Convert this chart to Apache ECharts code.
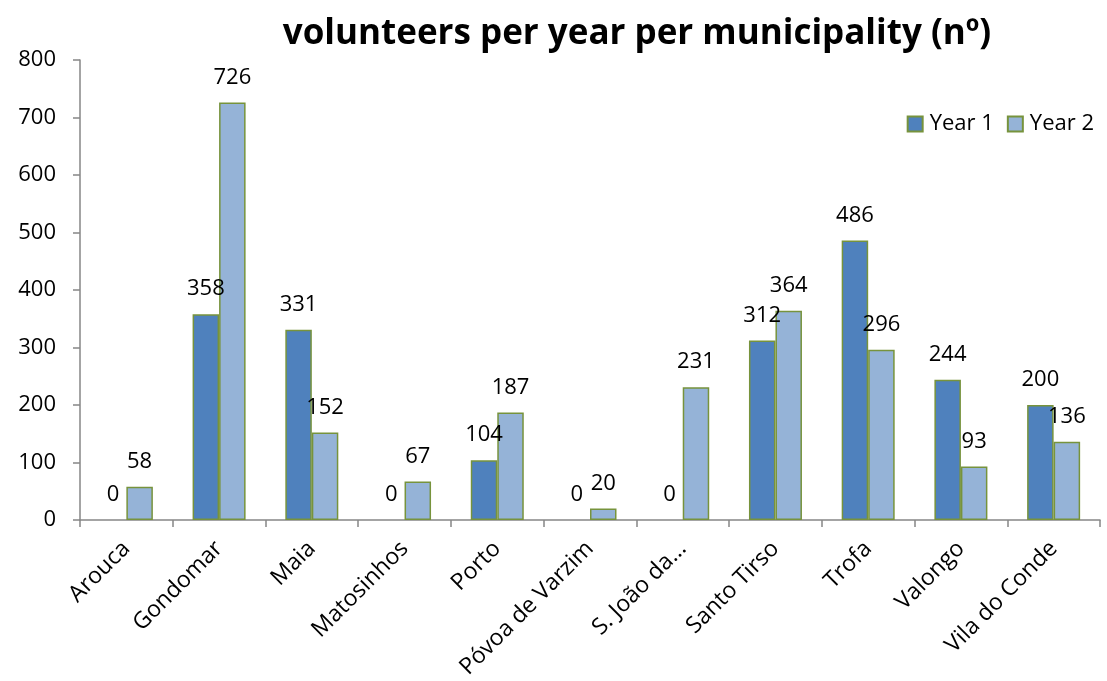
<!DOCTYPE html>
<html>
<head>
<meta charset="utf-8">
<script src="https://cdn.jsdelivr.net/npm/echarts@6/dist/echarts.min.js"></script>
<style>
  html, body { margin: 0; padding: 0; background: #fff; }
  #chart { width: 1107px; height: 681px; }
</style>
</head>
<body>
<div id="chart"></div>
<script>
// municipalities and volunteers per year
const municipalities = ['Arouca', 'Gondomar', 'Maia', 'Matosinhos', 'Porto', 'Póvoa de Varzim',
  'S. João da...', 'Santo Tirso', 'Trofa', 'Valongo', 'Vila do Conde']
const year1 = [0, 358, 331, 0, 104, 0, 0, 312, 486, 244, 200]
const year2 = [58, 726, 152, 67, 187, 20, 231, 364, 296, 93, 136]
const yTicks = { min: 0, max: 800, interval: 100 }

const font = '"Open Sans", "Noto Sans", sans-serif'
const axisGrey = '#868686'
const borderGreen = '#77933C'

const chart = echarts.init(document.getElementById('chart'))

function barSeries(name, data, color) {
  return {
    name: name,
    type: 'bar',
    // zero bars get no outline, like the original
    data: data.map(v => (v === 0 ? { value: v, itemStyle: { borderWidth: 0 } } : v)),
    barWidth: 26.5,
    barGap: '0%',
    itemStyle: { color: color, borderColor: borderGreen, borderWidth: 1.5 },
    label: {
      show: true,
      position: 'top',
      distance: 14,
      color: '#000',
      fontFamily: font,
      fontSize: 22
    }
  }
}

chart.setOption({
  animation: false,
  backgroundColor: '#fff',
  title: {
    text: 'volunteers per year per municipality (nº)',
    left: 632,
    textAlign: 'center',
    top: 12,
    textStyle: { fontFamily: font, fontSize: 35, fontWeight: 'bold', color: '#000' }
  },
  legend: {
    right: 8,
    top: 108,
    itemWidth: 15,
    itemHeight: 15,
    itemGap: 13,
    icon: 'rect',
    textStyle: { fontFamily: font, fontSize: 22, color: '#000', padding: [0, 0, 0, 2] },
    data: ['Year 1', 'Year 2']
  },
  grid: { left: 80, right: 7, top: 60, bottom: 161, containLabel: false, outerBoundsMode: 'none' },
  xAxis: {
    type: 'category',
    data: municipalities,
    axisLine: { lineStyle: { color: axisGrey, width: 1.5 } },
    axisTick: { show: true, length: 7, lineStyle: { color: axisGrey, width: 1.5 } },
    axisLabel: {
      rotate: 45,
      interval: 0,
      margin: 25,
      color: '#000',
      fontFamily: font,
      fontSize: 23
    }
  },
  yAxis: {
    type: 'value',
    min: yTicks.min,
    max: yTicks.max,
    interval: yTicks.interval,
    axisLine: { show: true, lineStyle: { color: axisGrey, width: 1.5 } },
    axisTick: { show: true, length: 7, lineStyle: { color: axisGrey, width: 1.5 } },
    splitLine: { show: false },
    axisLabel: { margin: 24, color: '#000', fontFamily: font, fontSize: 22 }
  },
  series: [
    barSeries('Year 1', year1, '#4F81BD'),
    barSeries('Year 2', year2, '#95B3D7')
  ]
})
</script>
</body>
</html>
